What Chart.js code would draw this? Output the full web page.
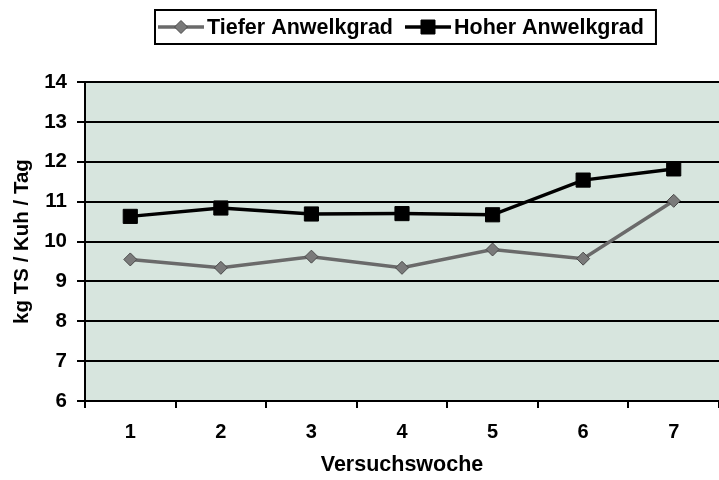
<!DOCTYPE html>
<html>
<head>
<meta charset="utf-8">
<script src="https://cdn.jsdelivr.net/npm/chart.js@4/dist/chart.umd.min.js"></script>
<style>
  html, body { margin: 0; padding: 0; background: #ffffff; overflow: hidden; }
  #wrap { width: 730px; height: 480px; }
</style>
</head>
<body>
<div id="wrap"><canvas id="c" width="730" height="480"></canvas></div>
<script>
const categories = ['1', '2', '3', '4', '5', '6', '7'];
const seriesNames = ['Tiefer Anwelkgrad', 'Hoher Anwelkgrad'];
const tieferValues = [9.55, 9.34, 9.62, 9.34, 9.80, 9.57, 11.02];
const hoherValues = [10.63, 10.84, 10.69, 10.70, 10.67, 11.54, 11.82];
const yTickMin = 6, yTickMax = 14, yTickStep = 1;
const xTitle = 'Versuchswoche';
const yTitle = 'kg TS / Kuh / Tag';

const FONT = '"Liberation Sans", Arial, sans-serif';

const plotBg = {
  id: 'plotBg',
  beforeDraw(chart) {
    const { ctx, chartArea: a } = chart;
    ctx.save();
    ctx.fillStyle = '#d7e5de';
    ctx.fillRect(a.left, a.top, a.right - a.left, a.bottom - a.top);
    ctx.restore();
  }
};

const boxLegend = {
  id: 'boxLegend',
  afterDraw(chart) {
    const ctx = chart.ctx;
    ctx.save();
    ctx.font = 'bold 21.5px ' + FONT;
    ctx.textBaseline = 'middle';
    const cy = 27;
    let x = 158;
    chart.data.datasets.forEach((ds, i) => {
      ctx.strokeStyle = ds.borderColor;
      ctx.lineWidth = 3.5;
      ctx.beginPath();
      ctx.moveTo(x, cy);
      ctx.lineTo(x + 46, cy);
      ctx.stroke();
      const mx = x + 23;
      ctx.fillStyle = ds.pointBackgroundColor;
      ctx.strokeStyle = ds.pointBorderColor;
      ctx.lineWidth = 1;
      ctx.beginPath();
      if (ds.pointStyle === 'rectRot') {
        const r = 6.5;
        ctx.moveTo(mx, cy - r); ctx.lineTo(mx + r, cy); ctx.lineTo(mx, cy + r); ctx.lineTo(mx - r, cy); ctx.closePath();
      } else {
        const s = 7;
        ctx.rect(mx - s, cy - s, 2 * s, 2 * s);
      }
      ctx.fill(); ctx.stroke();
      x += 49;
      ctx.fillStyle = '#000';
      ctx.textAlign = 'left';
      ctx.fillText(ds.label, x, cy + 1);
      x += ctx.measureText(ds.label).width + 12;
    });
    ctx.strokeStyle = '#000';
    ctx.lineWidth = 2;
    ctx.strokeRect(155, 10, x - 155, 34);
    ctx.restore();
  }
};

new Chart(document.getElementById('c'), {
  type: 'line',
  data: {
    labels: categories,
    datasets: [
      {
        label: seriesNames[0],
        data: tieferValues,
        borderColor: '#6a6a6a',
        borderWidth: 3.5,
        pointStyle: 'rectRot',
        pointRadius: 6.5,
        pointBackgroundColor: '#7a7a7a',
        pointBorderColor: '#4a4a4a',
        pointBorderWidth: 1,
        tension: 0
      },
      {
        label: seriesNames[1],
        data: hoherValues,
        borderColor: '#000000',
        borderWidth: 3.5,
        pointStyle: 'rect',
        pointRadius: 10,
        pointBackgroundColor: '#000000',
        pointBorderColor: '#000000',
        pointBorderWidth: 1,
        tension: 0
      }
    ]
  },
  options: {
    responsive: false,
    animation: false,
    devicePixelRatio: 1,
    layout: { padding: { top: 82, right: 3, left: 0, bottom: 0 } },
    plugins: { legend: { display: false }, tooltip: { enabled: false } },
    scales: {
      x: {
        type: 'category',
        offset: true,
        afterFit(s) { s.height = 79; },
        grid: { offset: true, drawOnChartArea: false, drawTicks: true, tickLength: 7, color: '#000', lineWidth: 2 },
        border: { display: true, color: '#000', width: 2 },
        ticks: { color: '#000', font: { family: FONT, size: 20, weight: 'bold' }, padding: 12 },
        title: { display: true, text: xTitle, color: '#000', font: { family: FONT, size: 21.5, weight: 'bold' }, padding: { top: 0, bottom: 2 } }
      },
      y: {
        min: yTickMin,
        max: yTickMax,
        afterFit(s) { s.width = 85; },
        ticks: { stepSize: yTickStep, color: '#000', font: { family: FONT, size: 20.5, weight: 'bold' }, padding: 10 },
        grid: { color: '#000', lineWidth: 2, tickLength: 8, drawTicks: true },
        border: { display: true, color: '#000', width: 2 },
        title: { display: true, text: yTitle, color: '#000', font: { family: FONT, size: 20.5, weight: 'bold' }, padding: { top: 10, bottom: 0 } }
      }
    }
  },
  plugins: [plotBg, boxLegend]
});
</script>
</body>
</html>
